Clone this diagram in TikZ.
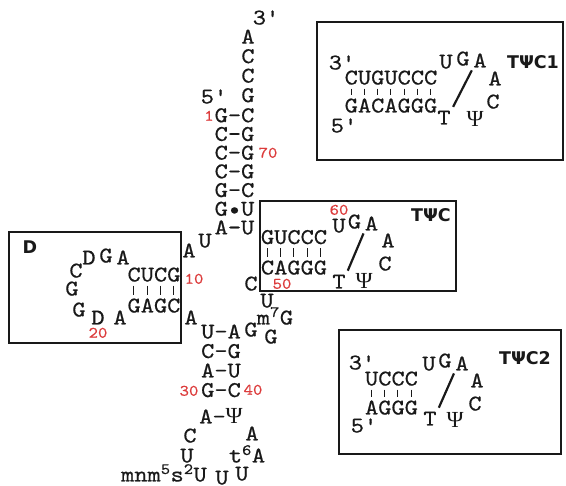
\documentclass[tikz,border=0pt]{standalone}
\usepackage{fontspec}
\usepackage{xcolor}
\usepackage{tikz}
\usetikzlibrary{positioning, calc}
\newfontfamily\basefont{lmmono10-regular.otf}[FakeStretch=1.12, FakeBold=0.6]
\newfontfamily\labelfont{DejaVu Sans}
\newfontfamily\psifont{Liberation Serif}
\newcommand{\Psib}{{\psifont\fontsize{23}{23}\selectfont Ψ}}
\definecolor{numred}{RGB}{220,60,60}
\definecolor{mydark}{RGB}{25,25,25}
\tikzset{
  base/.style={inner sep=0pt, text height=13pt, text depth=0pt,
    font=\basefont\fontsize{22.5}{22.5}\selectfont, text=mydark},
  num/.style={inner sep=0pt, text height=9.5pt, text depth=0pt,
    font=\basefont\fontsize{16}{16}\selectfont, text=numred},
  boxlabel/.style={inner sep=0pt, text height=12.5pt, text depth=0pt,
    font=\labelfont\bfseries\fontsize{17.5}{17.5}\selectfont, text=mydark},
  domainbox/.style={draw=mydark, line width=2.5pt},
  pairbar/.style={draw=mydark, line width=1.1pt, shorten <=4pt, shorten >=4pt},
  loopline/.style={draw=mydark, line width=2.2pt, shorten <=3pt, shorten >=5pt}
}

\begin{document}
\begin{tikzpicture}[x=1pt, y=-1pt]
  \useasboundingbox (0,0) rectangle (566,486);

  % Domain frames
  \draw[domainbox] (9,232) rectangle (181,343);
  \draw[domainbox] (260,201) rectangle (456,291);
  \draw[domainbox] (317,22) rectangle (563,160);
  \draw[domainbox] (339,330) rectangle (561,454);

  % Acceptor stem
  \node[base] (three) at (266,18) {3'};
  \foreach \t [count=\i] in {A,C,C,G}
    \node[base] (tail\i) at (248,{17.6+19.5*\i}) {\t};
  \node[base] (five) at (214,97) {5'};
  \foreach \t [count=\i] in {G–C,C–G,C–G,C–G,G–C,G•U,A–U}
    \node[base] (acc\i) at (234.5,{97+18.7*\i}) {\t};
  \node[num] (n1) at (209,116) {1};
  \node[num] (n70) at (268,153) {70};

  % Linker
  \node[base] (lA) at (189,251) {A};
  \node[base] (lU) at (205,241) {U};
  \node[base] (lA2) at (191,318) {A};

  % D arm
  \node[boxlabel] (dlabel) at (30,247) {D};
  \node[base] (dtop) at (154,275) {CUCG};
  \node[base] (dbot) at (154,306) {GAGC};
  \node[base] (dC) at (76,271) {C};
  \node[base] (dD) at (89,258) {D};
  \node[base] (dG) at (106,256) {G};
  \node[base] (dA) at (123,258) {A};
  \node[base] (dG2) at (72,289) {G};
  \node[base] (dG3) at (79,310) {G};
  \node[base] (dD2) at (98,318) {D};
  \node[base] (dA2) at (120,318) {A};
  \node[num] (n10) at (194,279) {10};
  \node[num] (n20) at (98,333) {20};

  % Anticodon arm
  \foreach \t [count=\i] in {U–A,C–G,A–U,G–C}
    \node[base] (ac\i) at (221,{312.5+19.5*\i}) {\t};
  \node[base] (acPsi) at (221,417) {A–\Psib};
  \node[num] (n30) at (189,391) {30};
  \node[num] (n40) at (253,390) {40};
  \node[base] (aG) at (251,330) {G};
  \node[base] (aC) at (190,436) {C};
  \node[base] (aA) at (252,434) {A};
  \node[base] (aU) at (187,456) {U};
  \node[base] (at6A) at (247,456) {t\textsuperscript{6}A};
  \node[base] (amnm) at (164,475) {mnm\textsuperscript{5}s\textsuperscript{2}U};
  \node[base] (aU2) at (222,478) {U};
  \node[base] (aU3) at (242,474) {U};

  % Variable loop
  \node[base] (vC) at (251,284) {C};
  \node[base] (vU) at (267,301) {U};
  \node[base] (vm7G) at (275,318) {m\textsuperscript{7}G};
  \node[base] (vG) at (271,337) {G};

  % T arm
  \node[boxlabel] (tlabel) at (431,215) {TΨC};
  \node[base] (ttop) at (294,237.5) {GUCCC};
  \node[base] (tbot) at (294,268) {CAGGG};
  \node[num] (n50) at (282,284) {50};
  \node[num] (n60) at (339,210) {60};
  \node[base] (tU) at (339,226) {U};
  \node[base] (tG) at (354.5,222) {G};
  \node[base] (tA) at (371.5,224) {A};
  \node[base] (tA2) at (388,241) {A};
  \node[base] (tC) at (385,264) {C};
  \node[base] (tT) at (339,282) {T};
  \node[base] (tPsi) at (364,282) {\Psib};

  % T arm, variant 1
  \node[boxlabel] (v1label) at (533,62) {TΨC1};
  \node[base] (v1three) at (342,63) {3'};
  \node[base] (v1top) at (391,78) {CUGUCCC};
  \node[base] (v1bot) at (391,106) {GACAGGG};
  \node[base] (v1five) at (344,126) {5'};
  \node[base] (v1U) at (446,62) {U};
  \node[base] (v1G) at (463,59) {G};
  \node[base] (v1A) at (480,61) {A};
  \node[base] (v1A2) at (495,79) {A};
  \node[base] (v1C) at (493,102) {C};
  \node[base] (v1T) at (444,118) {T};
  \node[base] (v1Psi) at (475,120) {\Psib};

  % T arm, variant 2
  \node[boxlabel] (v2label) at (525,358) {TΨC2};
  \node[base] (v2three) at (362,363) {3'};
  \node[base] (v2top) at (391.5,379) {UCCC};
  \node[base] (v2bot) at (391.5,408) {AGGG};
  \node[base] (v2five) at (364,426) {5'};
  \node[base] (v2U) at (429,364) {U};
  \node[base] (v2G) at (445,361) {G};
  \node[base] (v2A) at (462,364) {A};
  \node[base] (v2A2) at (477,381) {A};
  \node[base] (v2C) at (475,404) {C};
  \node[base] (v2T) at (430,419) {T};
  \node[base] (v2Psi) at (455,421) {\Psib};

  % Base pairs
  \foreach \rowa/\rowb/\n in {dtop/dbot/3, ttop/tbot/4, v1top/v1bot/6, v2top/v2bot/3}
    \foreach \col in {0,...,\n}
      \draw[pairbar] ([xshift={(6.6+13.25*\col)*1pt}]\rowa.south west)
        -- ([xshift={(6.6+13.25*\col)*1pt}]\rowb.north west);

  % Loop slashes
  \draw[loopline] (tA.south west) -- (tT.north east);
  \draw[loopline] (v1A.south west) -- (v1T.north east);
  \draw[loopline] (v2A.south west) -- (v2T.north east);
\end{tikzpicture}
\end{document}
